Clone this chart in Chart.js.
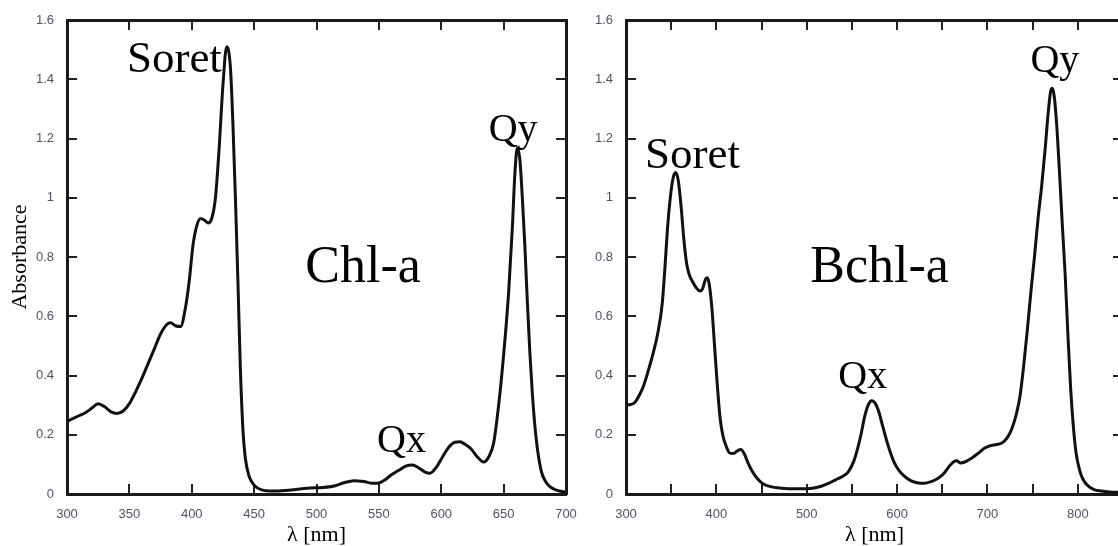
<!DOCTYPE html>
<html>
<head>
<meta charset="utf-8">
<script src="https://cdn.jsdelivr.net/npm/chart.js@4.4.1/dist/chart.umd.min.js"></script>
<style>
  body { margin: 0; background: #fff; }
  #wrap { position: relative; width: 1118px; height: 546px; overflow: hidden; background: #fff; }
  canvas { position: absolute; top: 0; }
  #chlChart { left: 0; }
  #bchlChart { left: 560px; }
</style>
</head>
<body>
<div id="wrap">
  <canvas id="chlChart" width="600" height="546"></canvas>
  <canvas id="bchlChart" width="620" height="546"></canvas>
</div>
<script>
// Chlorophyll a absorption spectrum
const chlWavelength = [
  300, 305, 310, 315, 320, 325, 330, 335, 340, 345, 350, 355, 360, 365, 370, 375,
  380, 383, 387, 391, 395, 398, 401, 404, 407, 410, 413, 416, 419, 422, 425, 428,
  431, 433, 435, 437, 439, 441, 443, 446, 450, 456, 465, 475, 485, 495, 505, 515,
  522, 530, 538, 545, 550, 555, 560, 566, 572, 577, 582, 587, 591, 596, 601, 606,
  611, 615, 619, 624, 629, 634, 638, 642, 646, 650, 654, 657, 659, 661, 663, 665,
  667, 669, 671, 673, 676, 680, 684, 688, 693, 700
];
const chlAbsorbance = [
  0.245, 0.255, 0.265, 0.275, 0.29, 0.305, 0.295, 0.278, 0.272, 0.28, 0.305, 0.345, 0.39, 0.44, 0.49, 0.54,
  0.572, 0.578, 0.568, 0.565, 0.63, 0.72, 0.84, 0.905, 0.93, 0.925, 0.915, 0.93, 1.0, 1.17, 1.38, 1.51,
  1.44, 1.25, 1.0, 0.72, 0.42, 0.22, 0.12, 0.06, 0.03, 0.014, 0.01, 0.012, 0.016, 0.02, 0.022, 0.028,
  0.038, 0.045, 0.042, 0.036, 0.037, 0.048, 0.065, 0.08, 0.095, 0.098, 0.088, 0.074, 0.07, 0.09, 0.125, 0.158,
  0.175, 0.176, 0.168, 0.152, 0.125, 0.108, 0.125, 0.172, 0.3, 0.47, 0.68, 0.9, 1.08, 1.17, 1.13, 1.0,
  0.84, 0.65, 0.48, 0.34, 0.19, 0.08, 0.04, 0.022, 0.012, 0.006
];

// Bacteriochlorophyll a absorption spectrum
const bchlWavelength = [
  300, 305, 310, 315, 320, 325, 330, 335, 340, 343, 346, 349, 352, 355, 358, 361,
  364, 367, 370, 374, 378, 382, 385, 388, 390, 392, 395, 398, 401, 404, 407, 411,
  415, 419, 423, 427, 431, 435, 440, 446, 452, 460, 470, 480, 490, 500, 508, 516,
  524, 532, 540, 546, 552, 556, 560, 564, 568, 572, 576, 580, 584, 588, 592, 597,
  602, 608, 615, 622, 630, 638, 645, 652, 658, 663, 666, 670, 675, 682, 690, 697,
  703, 710, 716, 722, 727, 732, 736, 740, 744, 748, 752, 756, 760, 764, 767, 770,
  772, 774, 777, 780, 783, 786, 789, 792, 795, 798, 802, 806, 811, 818, 826, 835, 850
];
const bchlAbsorbance = [
  0.30, 0.302, 0.31, 0.335, 0.37, 0.42, 0.475, 0.54, 0.64, 0.76, 0.9, 1.0, 1.065, 1.085, 1.055, 0.97,
  0.86, 0.78, 0.74, 0.715, 0.695, 0.685, 0.695, 0.725, 0.73, 0.71, 0.63, 0.5, 0.37, 0.26, 0.2, 0.16,
  0.138, 0.137, 0.145, 0.15, 0.135, 0.105, 0.075, 0.05, 0.034, 0.025, 0.02, 0.018, 0.018, 0.018, 0.02, 0.026,
  0.036, 0.048, 0.06, 0.075, 0.11, 0.15, 0.2, 0.26, 0.3, 0.315, 0.305, 0.275, 0.23, 0.185, 0.145, 0.105,
  0.08, 0.06, 0.045, 0.038, 0.036, 0.042, 0.052, 0.07, 0.095, 0.11, 0.112, 0.105, 0.108, 0.12, 0.138, 0.155,
  0.163, 0.167, 0.172, 0.19, 0.22, 0.27, 0.33, 0.43, 0.55, 0.68, 0.8, 0.93, 1.04, 1.17, 1.28, 1.36,
  1.37, 1.34, 1.23, 1.07, 0.9, 0.74, 0.54, 0.36, 0.23, 0.14, 0.08, 0.048, 0.028, 0.015, 0.01, 0.007, 0.005
];

// band names, anchored at [wavelength, absorbance] of the text's left baseline
const chlBands = ['Soret', 'Chl-a', 'Qy', 'Qx'];
const chlBandAt = [[348, 1.423], [491, 0.714], [638, 1.19], [548.5, 0.143]];
const bchlBands = ['Soret', 'Bchl-a', 'Qy', 'Qx'];
const bchlBandAt = [[321, 1.102], [504, 0.714], [747.5, 1.426], [535, 0.359]];

const absorbanceTicks = [0, 0.2, 0.4, 0.6, 0.8, 1, 1.2, 1.4, 1.6];

const serif = "'Liberation Serif', 'Times New Roman', serif";
const sans = "'Liberation Sans', Arial, sans-serif";
const tickColor = '#4d5466';

function bandSize(name) {
  if (name.startsWith('Q')) return 40;
  if (name === 'Soret') return 45;
  return 52;
}

// writes band names into the plot, placed through the chart's scales
function bandLabels(names, anchors) {
  return {
    id: 'bandLabels',
    afterDatasetsDraw(chart) {
      const { ctx, scales } = chart;
      ctx.save();
      ctx.fillStyle = '#000';
      ctx.textAlign = 'left';
      ctx.textBaseline = 'alphabetic';
      names.forEach((name, i) => {
        ctx.font = bandSize(name) + 'px ' + serif;
        ctx.fillText(name, scales.x.getPixelForValue(anchors[i][0]), scales.y.getPixelForValue(anchors[i][1]));
      });
      ctx.restore();
    }
  };
}

function spectrumScales(xMax, labelEvery, yTitle, yWidth) {
  // negative tick length turns the tick marks into the frame
  const inward = { drawOnChartArea: false, drawTicks: true, tickLength: -10, lineWidth: 2, color: '#222' };
  const border = { display: true, width: 3, color: '#1a1a1a' };
  const tickFont = { family: sans, size: 13 };
  const yTicks = scale => { scale.ticks = absorbanceTicks.map(v => ({ value: v })); };
  // keep the label overhang from pushing the frame around
  const noOverhang = s => { s.paddingTop = 0; s.paddingBottom = 0; s.paddingLeft = 0; s.paddingRight = 0; };
  return {
    x: {
      type: 'linear', position: 'bottom', min: 300, max: xMax,
      grid: inward, border,
      ticks: {
        stepSize: 50, padding: 23, color: tickColor, font: tickFont, maxRotation: 0, autoSkip: false,
        callback: v => (v % labelEvery === 0 ? v : '')
      },
      title: { display: true, text: 'λ [nm]', color: '#000', font: { family: serif, size: 22 }, padding: { top: 0, bottom: -2 } },
      afterFit: s => { noOverhang(s); s.height = 52; }
    },
    x2: {
      type: 'linear', position: 'top', min: 300, max: xMax,
      grid: inward, border,
      ticks: { stepSize: 50, display: false },
      afterFit: s => { noOverhang(s); s.height = 0; }
    },
    y: {
      type: 'linear', position: 'left', min: 0, max: 1.6,
      grid: inward, border,
      afterBuildTicks: yTicks,
      ticks: { padding: 23, color: tickColor, font: tickFont, callback: v => String(v) },
      title: { display: !!yTitle, text: yTitle, color: '#000', font: { family: serif, size: 22 }, padding: { top: 7, bottom: 0 } },
      afterFit: s => { noOverhang(s); s.width = yWidth; }
    },
    y2: {
      type: 'linear', position: 'right', min: 0, max: 1.6,
      grid: inward, border,
      afterBuildTicks: yTicks,
      ticks: { display: false },
      afterFit: s => { noOverhang(s); s.width = 0; }
    }
  };
}

function spectrumChart(id, wavelength, absorbance, names, anchors, xMax, labelEvery, yTitle, yWidth, padRight) {
  return new Chart(document.getElementById(id), {
    type: 'line',
    data: {
      datasets: [{
        data: wavelength.map((w, i) => ({ x: w, y: absorbance[i] })),
        xAxisID: 'x',
        yAxisID: 'y',
        borderColor: '#111',
        borderWidth: 3,
        pointRadius: 0,
        fill: false,
        cubicInterpolationMode: 'monotone'
      }]
    },
    options: {
      responsive: false,
      animation: false,
      devicePixelRatio: 1,
      layout: { padding: { left: 0, right: padRight, top: 20, bottom: 0 } },
      plugins: { legend: { display: false }, tooltip: { enabled: false } },
      scales: spectrumScales(xMax, labelEvery, yTitle, yWidth)
    },
    plugins: [bandLabels(names, anchors)]
  });
}

spectrumChart('chlChart', chlWavelength, chlAbsorbance, chlBands, chlBandAt, 700, 50, 'Absorbance', 67, 34);
spectrumChart('bchlChart', bchlWavelength, bchlAbsorbance, bchlBands, bchlBandAt, 850, 100, '', 66, 57);
</script>
</body>
</html>
